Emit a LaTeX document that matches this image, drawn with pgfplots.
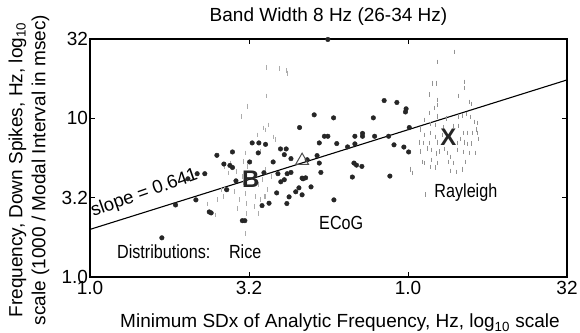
\documentclass[border=0pt]{standalone}
\usepackage{pgfplots}
\pgfplotsset{compat=1.18}
\usepackage{fontspec}
\setmainfont{Liberation Sans}
\newfontfamily\narrowfont[FakeStretch=0.85]{Liberation Sans}
\usetikzlibrary{calc}
\newcommand{\fs}{\fontsize{19}{23}\selectfont}
\newcommand{\fn}{\narrowfont\fontsize{19}{23}\selectfont}
\begin{document}
\begin{tikzpicture}
\begin{axis}[
  name=ax,
  scale only axis, width=477pt, height=238pt,
  xmin=0, xmax=1.5, ymin=0, ymax=1.5,
  clip=false,
  xtick={0,0.5,1,1.5}, xticklabels={1.0,3.2,1.0,32},
  ytick={0,0.5,1,1.5}, yticklabels={1.0,3.2,10,32},
  /pgf/number format/assume math mode=true,
  tick label style={font=\fs},
  xticklabel style={yshift=-1pt},
  yticklabel style={xshift=1.5pt},
  major tick length=5pt,
  tick style={black, line width=0.9pt},
  axis line style={line width=1.1pt},
  title={Band Width 8 Hz (26-34 Hz)},
  title style={font=\fs, at={(axis description cs:0.5,1.05)}, anchor=base},
  xlabel={Minimum SDx of Analytic Frequency, Hz, log\textsubscript{10} scale},
  xlabel style={font=\fs, at={(axis description cs:0.524,-0.214)}, anchor=base},
  ylabel={Frequency, Down Spikes, Hz, log\textsubscript{10}\\scale (1000 / Modal Interval in msec)},
  ylabel style={font=\fs, align=center, at={(axis description cs:-0.128,0.45)}, anchor=center, rotate=0},
]
% Rice distribution (grey dashes)
\addplot[only marks, mark=|, mark size=2.4pt, gray!65, line width=0.8pt] coordinates {
(0.555,1.321)(0.596,1.316)(0.617,1.299)(0.622,1.285)(0.555,1.141)(0.477,1.010)
(0.494,1.077)(0.544,0.939)(0.550,0.926)(0.560,0.958)(0.525,0.895)(0.576,0.882)
(0.582,0.866)(0.535,0.792)(0.488,0.782)(0.483,0.729)(0.494,0.697)(0.424,0.697)
(0.442,0.718)(0.436,0.655)(0.459,0.666)(0.480,0.634)(0.483,0.592)(0.488,0.528)
(0.492,0.465)(0.492,0.401)(0.488,0.275)(0.469,0.486)(0.465,0.433)(0.517,0.602)
(0.529,0.581)(0.543,0.613)(0.552,0.676)(0.570,0.634)(0.558,0.549)(0.552,0.507)
(0.535,0.486)(0.520,0.507)(0.517,0.444)(0.529,0.401)(0.413,0.549)(0.418,0.507)
(0.401,0.486)(0.453,0.539)(0.424,0.560)(0.395,0.391)(0.370,0.460)(0.548,0.505)
};
% Rayleigh distribution (grey dashes)
\addplot[only marks, mark=|, mark size=2.4pt, gray!85, line width=0.8pt] coordinates {
(1.145,1.418)(1.091,1.355)(1.078,1.222)(1.088,1.222)(1.176,1.229)(1.176,1.191)
(1.157,1.141)(1.094,1.115)(1.094,1.084)(1.082,1.065)(1.192,1.103)(1.198,1.090)
(1.066,1.033)(1.091,1.014)(1.157,1.014)(1.170,1.020)(1.185,1.027)(1.195,1.008)
(1.208,0.977)(1.217,0.970)(1.069,0.964)(1.085,0.958)(1.142,0.952)(1.160,0.952)
(1.050,0.895)(1.069,0.907)(1.085,0.882)(1.107,0.895)(1.173,0.907)(1.186,0.907)
(1.201,0.907)(1.217,0.907)(1.035,0.850)(1.047,0.844)(1.066,0.844)(1.094,0.850)
(1.154,0.844)(1.176,0.850)(1.186,0.838)(1.060,0.810)(1.075,0.800)(1.088,0.780)
(1.100,0.790)(1.116,0.807)(1.123,0.781)(1.132,0.756)(1.154,0.800)(1.173,0.788)
(1.192,0.781)(1.211,0.781)(1.044,0.725)(1.053,0.718)(1.075,0.737)(1.091,0.718)
(1.126,0.725)(1.142,0.718)(1.182,0.725)(1.069,0.693)(1.085,0.690)(1.132,0.668)
(1.151,0.662)(1.170,0.680)(1.006,0.680)(1.013,0.655)(1.056,0.518)(1.040,0.790)
(1.215,0.930)(1.220,0.870)(1.110,0.940)(1.120,1.000)(1.050,0.990)(1.040,0.930)
(1.200,0.840)(1.165,0.870)(1.068,1.150)
};
% ECoG (black dots)
\addplot[only marks, mark=*, mark size=2.3pt, black!85] coordinates {
(0.748,1.497)(0.925,1.112)(0.965,1.100)(0.994,1.060)(0.992,1.040)(0.705,1.022)
(0.766,1.003)(0.891,1.003)(0.659,0.942)(1.004,0.942)(0.737,0.887)(0.748,0.887)
(0.833,0.887)(0.857,0.905)(0.857,0.887)(0.895,0.887)(0.939,0.887)(0.721,0.845)
(0.776,0.841)(0.810,0.820)(0.833,0.839)(0.956,0.833)(0.987,0.819)(1.002,0.788)
(0.510,0.845)(0.531,0.845)(0.552,0.836)(0.599,0.807)(0.617,0.807)(0.611,0.771)
(0.448,0.788)(0.399,0.767)(0.421,0.712)(0.440,0.703)(0.448,0.690)(0.502,0.725)
(0.529,0.782)(0.632,0.746)(0.576,0.725)(0.683,0.739)(0.714,0.765)(0.721,0.718)
(0.726,0.659)(0.830,0.718)(0.838,0.705)(0.855,0.697)(0.825,0.630)(0.943,0.636)
(0.667,0.623)(0.632,0.659)(0.547,0.657)(0.591,0.651)(0.620,0.651)(0.587,0.530)
(0.626,0.505)(0.647,0.537)(0.657,0.562)(0.667,0.518)(0.695,0.568)(0.670,0.619)
(0.678,0.625)(0.767,0.486)(0.541,0.450)(0.563,0.465)(0.619,0.463)(0.459,0.606)
(0.430,0.550)(0.337,0.651)(0.361,0.651)(0.308,0.619)(0.269,0.454)(0.333,0.486)
(0.375,0.410)(0.381,0.404)(0.226,0.247)(0.479,0.355)(0.487,0.355)(0.600,0.600)
(0.611,0.613)
};
% regression line
\addplot[black, line width=1.1pt] coordinates {(0,0.300) (1.5,1.242)};
% centroids
\addplot[only marks, mark=triangle, mark size=7.5pt, black!70, line width=1pt] coordinates {(0.667,0.733)};
\addplot[only marks, mark=none, nodes near coords={\fontsize{24}{24}\selectfont\bfseries B},
  every node near coord/.style={anchor=center, inner sep=0pt, black!85}] coordinates {(0.506,0.613)};
\addplot[only marks, mark=none, nodes near coords={\fontsize{24}{24}\selectfont\bfseries X},
  every node near coord/.style={anchor=center, inner sep=0pt, black!85}] coordinates {(1.127,0.883)};
% text
\node[font=\fontsize{18.5}{22}\selectfont, rotate=19.5, anchor=base west, inner sep=0pt] at (axis cs:0.010,0.380) {slope = 0.641};
\node[font=\fn] at (axis cs:0.232,0.158) {Distributions:};
\node[font=\fn] at (axis cs:0.488,0.158) {Rice};
\node[font=\fn] at (axis cs:0.790,0.342) {ECoG};
\node[font=\fn] at (axis cs:1.182,0.532) {Rayleigh};
\end{axis}
\pgfresetboundingbox
\path[use as bounding box] ($(ax.south west)+(-90pt,-56pt)$) rectangle ($(ax.north east)+(13pt,39pt)$);
\end{tikzpicture}
\end{document}
